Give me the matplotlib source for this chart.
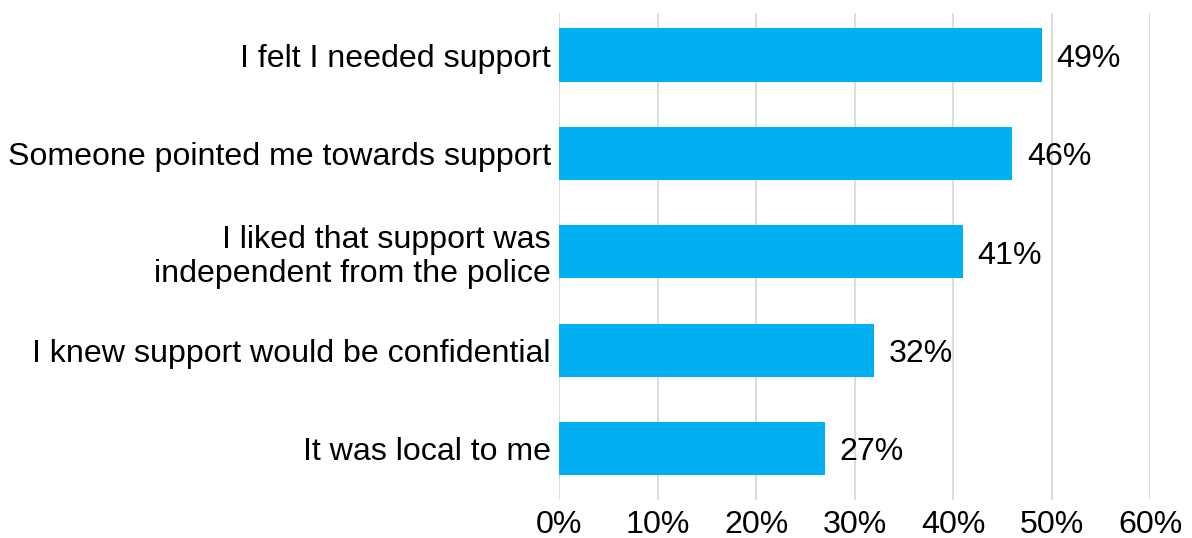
import matplotlib
matplotlib.use("Agg")
import matplotlib.pyplot as plt
from matplotlib.ticker import MultipleLocator, FuncFormatter

plt.rcParams['font.family'] = ['Liberation Sans', 'DejaVu Sans']

categories = [
    "I felt I needed support",
    "Someone pointed me towards support",
    "I liked that support was\nindependent from the police",
    "I knew support would be confidential",
    "It was local to me",
]
values = [49, 46, 41, 32, 27]

bar_color = "#00B0F0"
grid_color = "#D9D9D9"
fs = 23.1

fig = plt.figure(figsize=(11.92, 5.38), dpi=100)
ax = fig.add_axes([0.469, 0.0706, 0.4958, 0.9052])

y = list(range(len(categories)))
ax.barh(y, values, height=0.54, color=bar_color, zorder=3)
ax.set_yticks(y)
ax.set_yticklabels(categories, fontsize=fs, linespacing=1.15)
ax.set_ylim(4.523, -0.427)
ax.set_xlim(0, 60)
ax.xaxis.set_major_locator(MultipleLocator(10))
ax.xaxis.set_major_formatter(FuncFormatter(lambda v, p: f"{v:.0f}%"))
ax.tick_params(axis='x', labelsize=fs, length=0, pad=7)
ax.tick_params(axis='y', length=0, pad=6)
ax.grid(axis='x', color=grid_color, linewidth=1.3, zorder=0)
for s in ax.spines.values():
    s.set_visible(False)

for yi, v in zip(y, values):
    ax.text(v + 1.5, yi + 0.04, f"{v}%", va='center', ha='left', fontsize=fs, color='black')

fig.savefig("out.png", dpi=100)
